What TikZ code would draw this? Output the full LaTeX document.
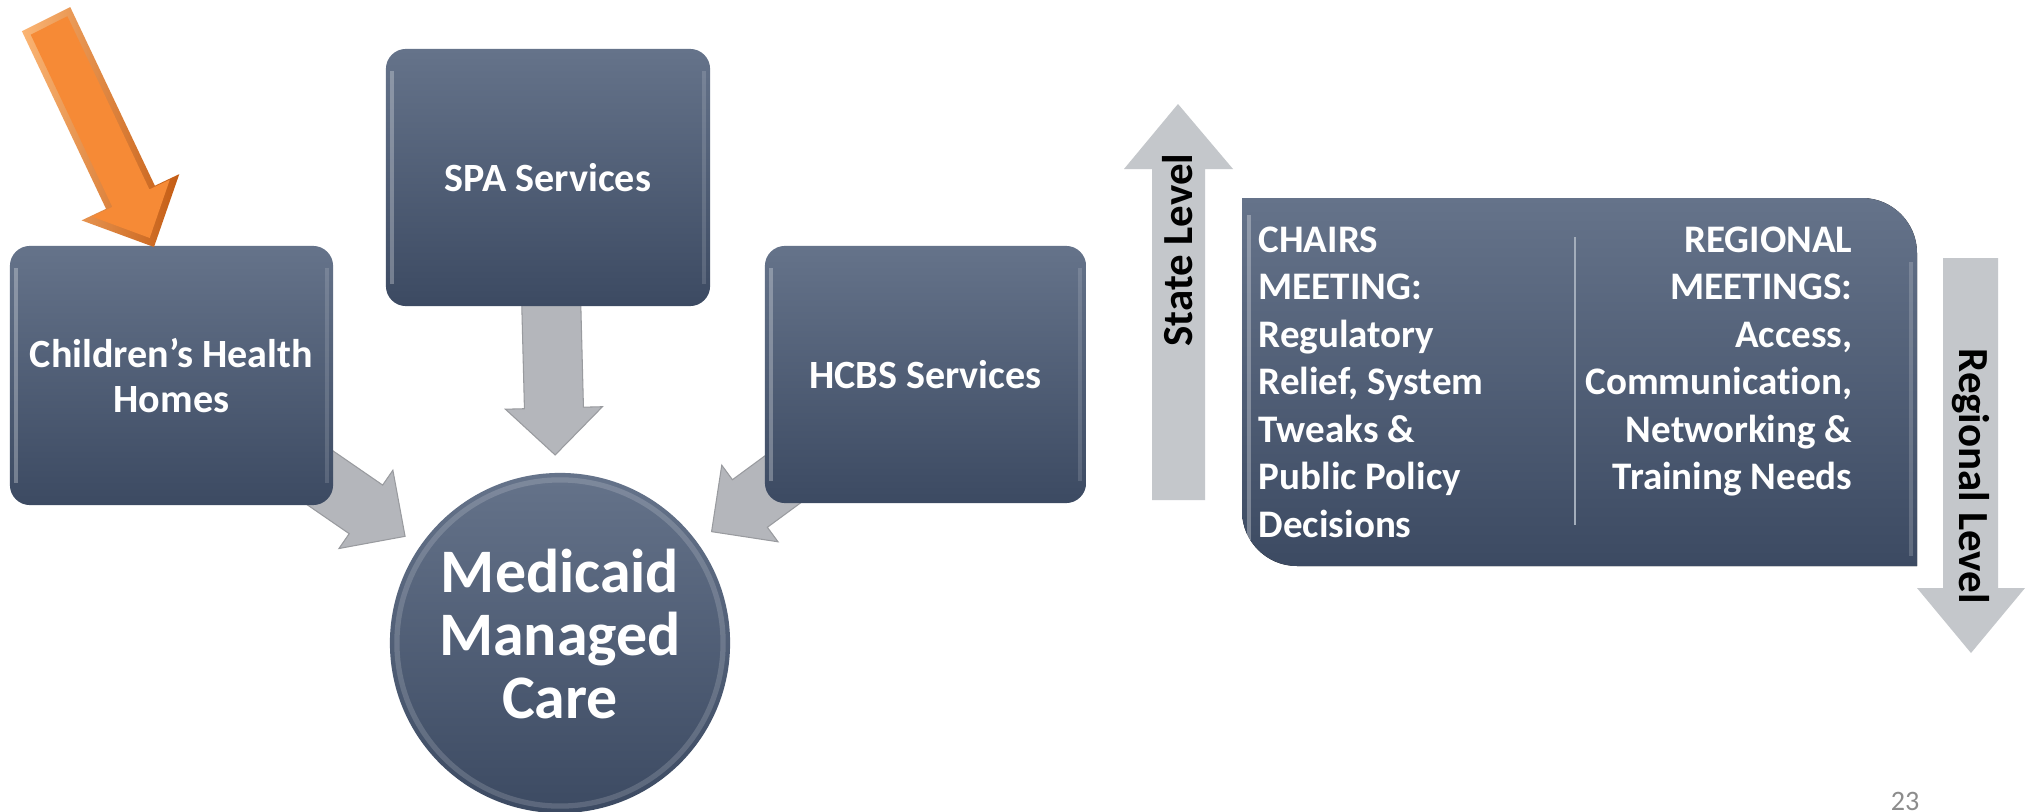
\documentclass[tikz,border=0pt]{standalone}
\usepackage{fontspec}
\setmainfont{Carlito}[Ligatures=NoCommon]
\usetikzlibrary{calc}
\pgfdeclarelayer{bg}
\pgfsetlayers{bg,main}
\definecolor{boxtop}{HTML}{65738A}
\definecolor{boxbot}{HTML}{3C4A62}
\definecolor{greyarr}{HTML}{B4B6BB}
\definecolor{sidearr}{HTML}{C4C7CB}
\definecolor{orangemain}{HTML}{F68A36}
\definecolor{orangelite}{HTML}{FBB574}
\definecolor{orangedark}{HTML}{C45C14}
\definecolor{pagegrey}{HTML}{8C8C8C}
\definecolor{divgrey}{HTML}{A3ADBB}
\newcommand{\myblockarrow}[7]{% #1 style, #2 source, #3 tip, #4 length, #5 shaft half, #6 head half, #7 head length
  \coordinate (#3-hb) at ($(#3)!#7!(#2)$);
  \coordinate (#3-bk) at ($(#3)!#4!(#2)$);
  \path[#1] (#3) -- ($(#3-hb)!#6!90:(#3)$) -- ($(#3-hb)!#5!90:(#3)$)
    -- ($(#3-bk)!#5!-90:(#2)$) -- ($(#3-bk)!#5!90:(#2)$)
    -- ($(#3-hb)!#5!-90:(#3)$) -- ($(#3-hb)!#6!-90:(#3)$) -- cycle;
}
\begin{document}
\begin{tikzpicture}[x=0.01cm,y=-0.01cm,
  bevel/.style={path picture={
    \draw[line width=1.3pt, draw=white, opacity=0.28]
      ([xshift=0.06cm,yshift=-0.22cm]path picture bounding box.north west) --
      ([xshift=0.06cm,yshift=0.22cm]path picture bounding box.south west);
    \draw[line width=1.1pt, draw=white, opacity=0.14]
      ([xshift=-0.06cm,yshift=-0.22cm]path picture bounding box.north east) --
      ([xshift=-0.06cm,yshift=0.22cm]path picture bounding box.south east);}},
  servicebox/.style={rounded corners=0.2cm, top color=boxtop, bottom color=boxbot,
    text=white, font=\bfseries\fontsize{11.4}{12.6}\selectfont, align=center,
    inner sep=0pt, bevel},
  paneltext/.style={text=white, font=\bfseries\fontsize{11.1}{13.5}\selectfont, inner sep=0pt},
  sidelabel/.style={text=black, font=\bfseries\fontsize{12.2}{14}\selectfont, inner sep=0pt},
  ]
\useasboundingbox (0,0) rectangle (2032,812);
\begin{pgfonlayer}{bg}
  \fill[white] (0,0) rectangle (2032,812);
\end{pgfonlayer}

% ---------- left: service boxes and centre circle
\node[servicebox, minimum width=3.23cm, minimum height=2.59cm] (chh) at (171.5,375.5)
  {Children’s Health\\Homes};
\node[servicebox, minimum width=3.24cm, minimum height=2.57cm] (spa) at (548,177.5)
  {SPA Services};
\node[servicebox, minimum width=3.21cm, minimum height=2.57cm] (hcbs) at (925.5,374.5)
  {HCBS Services};
\node[circle, minimum size=3.4cm, inner sep=0pt, top color=boxtop, bottom color=boxbot,
  path picture={\draw[white, opacity=0.16, line width=1.5pt]
    (path picture bounding box.center) circle[radius=1.63cm];}] (mmc) at (560,643) {};
\node[text=white, font=\bfseries\fontsize{17.6}{17.9}\selectfont, align=center, inner sep=0pt]
  (mmclabel) at (560,634) {Medicaid\\Managed\\Care};

% grey arrows into the circle (behind boxes)
\coordinate (tipchh) at ($(mmc.center)!1.88cm!(chh.center)$);
\coordinate (tipspa) at ($(mmc.center)!1.88cm!(spa.center)$);
\coordinate (tiphcbs) at ($(mmc.center)!1.88cm!(hcbs.center)$);
\begin{pgfonlayer}{bg}
  \myblockarrow{fill=greyarr, draw=greyarr!85!black, line width=0.3pt}{chh.center}{tipchh}{2.0cm}{0.295cm}{0.475cm}{0.475cm}
  \myblockarrow{fill=greyarr, draw=greyarr!85!black, line width=0.3pt}{spa.center}{tipspa}{1.65cm}{0.295cm}{0.485cm}{0.47cm}
  \myblockarrow{fill=greyarr, draw=greyarr!85!black, line width=0.3pt}{hcbs.center}{tiphcbs}{2.0cm}{0.295cm}{0.475cm}{0.475cm}
\end{pgfonlayer}

% orange pointer arrow
\coordinate (otail) at (46,19);
\coordinate (otip) at (154,247);
\coordinate (otail2) at ($(otail)!0.07cm!(otip)$);
\coordinate (otip2) at ($(otip)!0.10cm!(otail)$);
\myblockarrow{left color=orangelite, right color=orangedark}{otail}{otip}{2.52cm}{0.27cm}{0.54cm}{0.55cm}
\myblockarrow{fill=orangemain}{otail2}{otip2}{2.35cm}{0.205cm}{0.43cm}{0.44cm}

% ---------- right: meetings panel
\fill[top color=boxtop, bottom color=boxbot]
  (1242,198) -- (1862,198) arc[start angle=-90, end angle=0, radius=55]
  -- (1917,566) -- (1297,566) arc[start angle=90, end angle=180, radius=55] -- cycle;
\draw[white, opacity=0.3, line width=1.3pt] (1249,215) -- (1249,540);
\draw[white, opacity=0.18, line width=1.1pt] (1911,262) -- (1911,556);
\coordinate (divtop) at (1575,237);
\coordinate (divbot) at (1575,525);
\draw[divgrey, line width=0.6pt] (divtop) -- (divbot);
\node[paneltext, anchor=north west, align=left] (chairs) at (1258,226)
  {CHAIRS\\MEETING:\\Regulatory\\Relief, System\\Tweaks \&\\Public Policy\\Decisions};
\node[paneltext, anchor=north east, align=right] (regional) at (1853,226)
  {REGIONAL\\MEETINGS:\\Access,\\Communication,\\Networking \&\\Training Needs};

% level arrows
\fill[sidearr] (1178,104) -- (1233,169) -- (1205,169) -- (1205,500) -- (1152,500)
  -- (1152,169) -- (1124,169) -- cycle;
\node[sidelabel, rotate=90] (statelbl) at (1178,250) {State Level};
\fill[sidearr] (1971,653) -- (2025,588) -- (1998,588) -- (1998,258) -- (1943,258)
  -- (1943,588) -- (1917,588) -- cycle;
\node[sidelabel, rotate=-90] (reglbl) at (1971,476) {Regional Level};

% page number
\node[text=pagegrey, font=\fontsize{8}{9.6}\selectfont, inner sep=0pt] (pagenum) at (1905,801) {23};
\end{tikzpicture}
\end{document}
